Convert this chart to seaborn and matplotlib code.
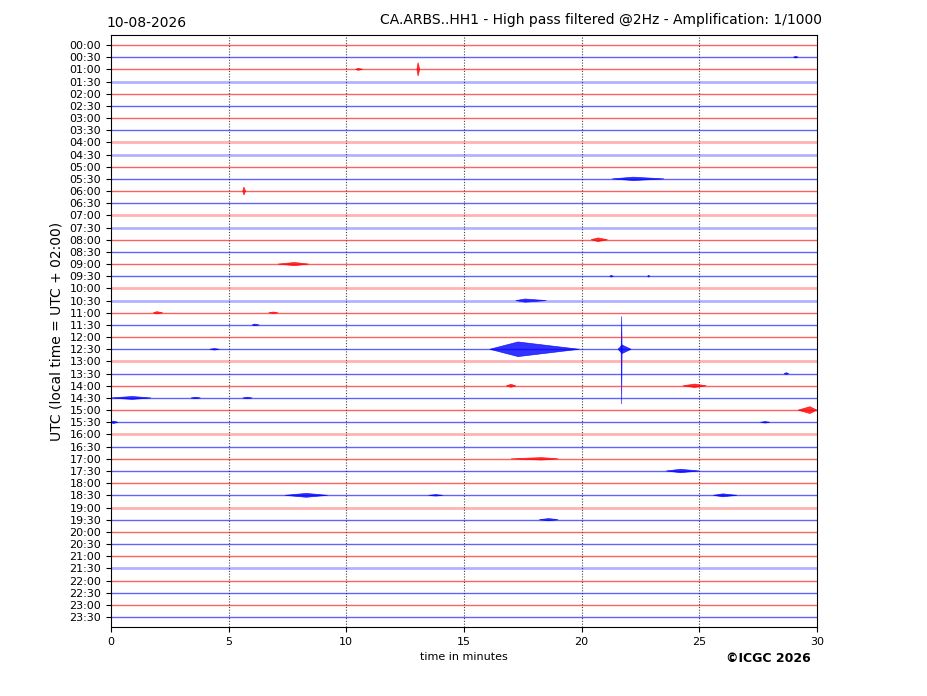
import numpy as np
import pandas as pd
import matplotlib
matplotlib.use("Agg")
import matplotlib.pyplot as plt
import seaborn as sns

# helicorder rows: one line every 30 minutes
row_labels = ["%02d:%02d" % (h, m) for h in range(24) for m in (0, 30)]
row_colors = ["red" if i % 2 == 0 else "blue" for i in range(len(row_labels))]
noisy_rows = ["01:30", "04:00", "04:30", "07:00", "07:30", "10:00", "10:30",
              "13:00", "16:00", "19:00", "21:30"]

# events: row, start / peak / end minute, amplitude up / down (in rows)
event_row = ["00:30", "01:00", "01:00", "05:30", "06:00", "08:00", "09:00", "09:30", "09:30",
             "10:30", "11:00", "11:00", "11:30", "12:30", "12:30", "12:30", "12:30", "13:30",
             "14:00", "14:00", "14:30", "14:30", "14:30", "15:00", "15:30", "15:30",
             "17:00", "17:30", "18:30", "18:30", "18:30", "19:30"]
event_start = [29.0, 10.4, 13.0, 21.3, 5.60, 20.4, 7.1, 21.2, 22.8,
               17.2, 1.8, 6.7, 6.0, 4.2, 16.1, 21.55, 21.68, 28.6,
               16.8, 24.3, 0.0, 3.4, 5.6, 29.2, 0.0, 27.6,
               17.0, 23.6, 7.4, 13.5, 25.6, 18.2]
event_peak = [29.1, 10.5, 13.05, 22.2, 5.65, 20.7, 7.8, 21.25, 22.85,
              17.6, 1.95, 6.9, 6.1, 4.4, 17.3, 21.72, 21.70, 28.7,
              17.0, 24.8, 0.9, 3.6, 5.8, 29.7, 0.1, 27.8,
              18.3, 24.2, 8.3, 13.8, 26.0, 18.6]
event_end = [29.2, 10.7, 13.12, 23.5, 5.72, 21.1, 8.4, 21.35, 22.9,
             18.5, 2.2, 7.1, 6.3, 4.6, 19.9, 22.1, 21.72, 28.8,
             17.2, 25.3, 1.7, 3.8, 6.0, 30.0, 0.3, 28.0,
             19.0, 25.0, 9.2, 14.1, 26.6, 19.0]
event_up = [0.07, 0.08, 0.55, 0.14, 0.33, 0.15, 0.13, 0.07, 0.07,
            0.13, 0.09, 0.06, 0.07, 0.06, 0.6, 0.35, 2.7, 0.07,
            0.12, 0.14, 0.12, 0.06, 0.06, 0.28, 0.1, 0.06,
            0.1, 0.14, 0.16, 0.06, 0.12, 0.09]
event_down = [0.07, 0.08, 0.55, 0.14, 0.33, 0.15, 0.13, 0.07, 0.07,
              0.13, 0.09, 0.06, 0.07, 0.06, 0.6, 0.35, 4.5, 0.07,
              0.12, 0.14, 0.12, 0.06, 0.06, 0.28, 0.1, 0.06,
              0.1, 0.14, 0.16, 0.06, 0.12, 0.09]

palette = {"red": "#ff0000", "blue": "#0000ff"}

plt.rcParams["font.family"] = ["DejaVu Sans"]

fig = plt.figure(figsize=(9.27, 6.96), dpi=100)
ax = fig.add_axes([0.1197, 0.0991, 0.7616, 0.8506])

# baselines
base = pd.DataFrame({
    "row": row_labels * 2,
    "minute": [0.0] * len(row_labels) + [30.0] * len(row_labels),
    "offset": list(range(len(row_labels))) * 2,
    "colour": row_colors * 2,
})
base["noisy"] = base["row"].isin(noisy_rows)
sns.lineplot(data=base[~base["noisy"]], x="minute", y="offset", units="row", estimator=None,
             hue="colour", palette=palette, lw=1.0, alpha=0.62, legend=False, ax=ax)
sns.lineplot(data=base[base["noisy"]], x="minute", y="offset", units="row", estimator=None,
             hue="colour", palette=palette, lw=2.0, alpha=0.3, legend=False, ax=ax)

# event envelopes
for r, s, p, e, up, dn in zip(event_row, event_start, event_peak, event_end, event_up, event_down):
    i = row_labels.index(r)
    c = palette[row_colors[i]]
    xs = [s, p, e, p]
    ys = [i, i - up, i, i + dn]
    ax.fill(xs, ys, color=c, alpha=0.8, lw=0.5, ec=c)

for m in [5, 10, 15, 20, 25]:
    ax.axvline(m, color="#444444", lw=0.8, ls=(0, (1, 1.5)), zorder=0)

ax.set_xlim(0, 30)
ax.set_ylim(len(row_labels) - 1 + 0.82, -0.82)
ax.set_xticks([0, 5, 10, 15, 20, 25, 30])
ax.set_yticks(range(len(row_labels)))
ax.set_yticklabels(row_labels)
ax.tick_params(labelsize=8)
ax.set_xlabel("time in minutes", fontsize=8)
ax.set_ylabel("UTC (local time = UTC + 02:00)", fontsize=10)
ax.set_title("10-08-2026", loc="left", fontsize=10, x=-0.006)
fig.text(822 / 927, 1 - 20 / 696, "CA.ARBS..HH1 - High pass filtered @2Hz - Amplification: 1/1000",
         ha="right", va="center", fontsize=10)
fig.text(811 / 927, 1 - 658 / 696, "\u00a9ICGC 2026", ha="right", va="center",
         fontsize=9, weight="bold")

fig.savefig("out.png", dpi=100)
